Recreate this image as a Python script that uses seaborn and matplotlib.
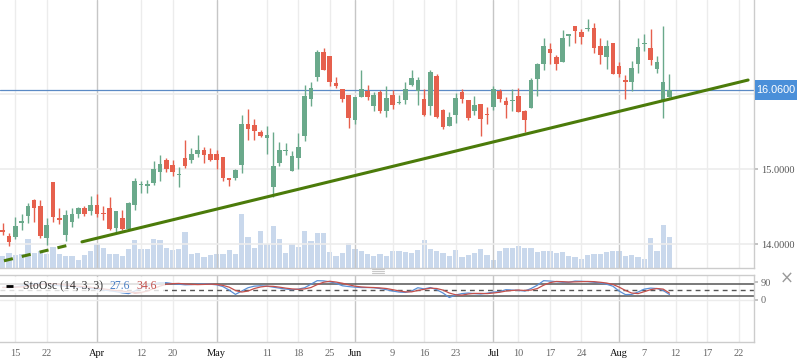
import numpy as np
import pandas as pd
import matplotlib
matplotlib.use("Agg")
import matplotlib.pyplot as plt
import matplotlib.transforms as mtransforms
from matplotlib.lines import Line2D
from matplotlib.patches import Rectangle
import seaborn as sns

# daily candles (open, high, low, close)
opens = [14.19, 14.11, 14.10, 14.29, 14.38, 14.59, 14.51, 14.08, 14.83, 14.35,
         14.12, 14.30, 14.41, 14.48, 14.45, 14.52, 14.41, 14.48, 14.22, 14.35,
         14.20, 14.53, 14.79, 14.78, 14.82, 14.96, 15.12, 15.06, 14.92, 15.15,
         15.12, 15.20, 15.26, 15.20, 15.20, 15.17, 14.88, 14.89, 15.06, 15.60,
         15.59, 15.50, 15.42, 14.76, 15.08, 15.25, 14.98, 15.15, 15.44, 15.94,
         16.23, 16.56, 16.51, 16.15, 16.07, 15.99, 15.66, 15.96, 16.05, 15.85,
         16.03, 15.78, 15.99, 15.89, 15.93, 16.13, 16.05, 15.94, 15.84, 16.24,
         15.79, 15.58, 15.72, 16.03, 15.92, 15.78, 15.87, 15.74, 15.83, 16.04,
         15.91, 15.91, 15.98, 15.78, 15.82, 16.21, 16.40, 16.60, 16.50, 16.43,
         16.78, 16.91, 16.83, 16.87, 16.88, 16.64, 16.50, 16.69, 16.38, 16.19,
         16.16, 16.40, 16.67, 16.62, 16.34, 15.93, 15.97]
highs = [14.28, 14.15, 14.37, 14.40, 14.55, 14.61, 14.59, 14.35, 14.83, 14.49,
         14.46, 14.48, 14.50, 14.51, 14.64, 14.67, 14.51, 14.63, 14.45, 14.46,
         14.57, 14.88, 14.84, 14.86, 15.11, 15.19, 15.15, 15.12, 15.03, 15.39,
         15.28, 15.46, 15.30, 15.28, 15.26, 15.17, 14.88, 15.01, 15.72, 15.80,
         15.67, 15.52, 15.58, 15.50, 15.37, 15.35, 15.24, 15.48, 16.12, 16.16,
         16.59, 16.62, 16.51, 16.23, 16.07, 15.99, 15.97, 16.32, 16.12, 16.03,
         16.06, 16.11, 16.06, 15.99, 16.17, 16.33, 16.23, 16.07, 16.32, 16.27,
         15.80, 15.76, 16.02, 16.07, 15.92, 15.98, 15.87, 15.83, 16.11, 16.07,
         15.97, 16.07, 16.09, 15.79, 16.22, 16.42, 16.75, 16.68, 16.52, 16.86,
         16.81, 16.91, 16.87, 17.00, 16.95, 16.75, 16.73, 16.69, 16.43, 16.26,
         16.44, 16.75, 16.81, 16.87, 16.51, 16.91, 16.27]
lows = [14.12, 13.98, 14.07, 14.19, 14.29, 14.30, 14.09, 13.99, 14.30, 14.27,
        14.05, 14.23, 14.35, 14.38, 14.39, 14.37, 14.32, 14.19, 14.16, 14.19,
        14.19, 14.46, 14.69, 14.69, 14.79, 14.84, 14.97, 14.91, 14.77, 15.02,
        15.08, 15.17, 15.09, 15.11, 15.00, 14.84, 14.78, 14.86, 14.95, 15.39,
        15.39, 15.43, 15.21, 14.63, 15.05, 15.19, 14.98, 15.01, 15.38, 15.84,
        16.18, 16.32, 16.11, 16.09, 15.90, 15.55, 15.61, 15.96, 15.93, 15.78,
        15.75, 15.70, 15.81, 15.87, 15.87, 16.11, 15.86, 15.71, 15.72, 15.69,
        15.54, 15.58, 15.62, 15.88, 15.66, 15.72, 15.44, 15.61, 15.79, 15.90,
        15.68, 15.78, 15.77, 15.50, 15.82, 15.98, 16.32, 16.41, 16.32, 16.43,
        16.65, 16.69, 16.67, 16.84, 16.55, 16.41, 16.34, 16.27, 16.23, 15.94,
        16.05, 16.29, 16.58, 16.39, 16.28, 15.68, 15.97]
closes = [14.17, 14.03, 14.24, 14.31, 14.51, 14.49, 14.11, 14.26, 14.37, 14.32,
          14.39, 14.41, 14.48, 14.41, 14.52, 14.41, 14.40, 14.21, 14.44, 14.21,
          14.55, 14.84, 14.81, 14.80, 15.00, 15.07, 15.00, 14.96, 14.94, 15.05,
          15.20, 15.26, 15.19, 15.12, 15.12, 14.89, 14.86, 14.99, 15.61, 15.54,
          15.51, 15.44, 15.46, 15.04, 15.26, 15.26, 15.18, 15.30, 15.98, 16.08,
          16.57, 16.32, 16.16, 16.11, 15.94, 15.68, 15.97, 16.07, 15.96, 15.99,
          15.78, 15.95, 15.86, 15.90, 16.07, 16.22, 16.19, 15.73, 16.30, 15.70,
          15.56, 15.70, 15.95, 15.94, 15.68, 15.86, 15.67, 15.73, 16.07, 15.94,
          15.86, 15.92, 15.77, 15.66, 16.19, 16.40, 16.64, 16.55, 16.41, 16.75,
          16.80, 16.84, 16.77, 16.88, 16.62, 16.52, 16.64, 16.27, 16.27, 16.17,
          16.35, 16.63, 16.69, 16.46, 16.43, 16.16, 16.06]
volume = [35, 46, 38, 43, 86, 46, 50, 41, 63, 41, 35, 35, 23, 38, 50, 71, 59, 43,
          41, 35, 56, 83, 56, 56, 86, 83, 59, 53, 56, 107, 41, 44, 32, 38, 41, 43,
          53, 41, 161, 92, 59, 110, 71, 125, 86, 44, 71, 62, 110, 80, 104, 104, 47,
          35, 44, 74, 56, 50, 41, 35, 41, 35, 50, 50, 47, 44, 53, 83, 56, 50, 44,
          35, 53, 32, 38, 44, 56, 38, 23, 50, 59, 59, 65, 59, 59, 47, 50, 50, 44,
          47, 35, 32, 26, 38, 41, 41, 47, 50, 50, 35, 38, 32, 26, 89, 50, 128, 92]

# stochastic oscillator (14, 3, 3)
sto_k = [65, 62, 66, 72, 78, 83, 85, 80, 75, 72, 70, 68, 65, 62, 58, 54, 50, 47,
         42, 36, 32, 45, 60, 72, 82, 88, 88, 83, 80, 77, 78, 80, 81, 80, 77, 68,
         50, 28, 45, 62, 70, 72, 70, 65, 60, 55, 52, 55, 62, 80, 98, 97, 92, 85,
         72, 68, 65, 63, 63, 62, 58, 52, 45, 40, 38, 45, 62, 56, 63, 52, 35, 12,
         25, 32, 35, 32, 30, 34, 40, 42, 52, 50, 48, 45, 58, 75, 98, 96, 93, 90,
         90, 96, 95, 93, 90, 86, 80, 70, 45, 27, 28, 40, 55, 60, 58, 48, 27.6]
sto_d = [63, 64, 65, 66, 69, 74, 79, 82, 82, 80, 76, 72, 70, 67, 64, 60, 56, 52,
         48, 45, 40, 37, 38, 45, 58, 70, 80, 83, 84, 81, 79, 78, 79, 80, 79, 74,
         65, 48, 40, 45, 58, 66, 70, 69, 65, 60, 56, 54, 56, 63, 78, 90, 95, 91,
         85, 77, 70, 66, 64, 63, 61, 58, 52, 46, 41, 41, 48, 54, 60, 58, 50, 35,
         26, 24, 30, 33, 33, 32, 35, 39, 45, 48, 50, 48, 50, 58, 75, 88, 94, 93,
         91, 92, 93, 94, 93, 90, 86, 79, 65, 48, 35, 32, 42, 52, 58, 55, 34.6]

tick_labels = ["15", "22", "Apr", "12", "20", "May", "11", "18", "25", "Jun", "9",
               "16", "23", "Jul", "10", "17", "24", "Aug", "7", "12", "17", "22"]
tick_bars = [2, 7, 15, 22, 27, 34, 42, 47, 52, 56, 62, 67, 72, 78, 82, 87, 92,
             98, 102, 107, 112, 117]
months = ["Apr", "May", "Jun", "Jul", "Aug"]

last_price = 16.06
trend_x = [0.2, 118.5]
trend_y = [13.78, 16.19]

GREEN = "#6aa98b"
RED = "#e6604d"

sns.set_theme(style="white")
plt.rcParams["font.family"] = ["Liberation Serif", "DejaVu Serif"]

n = len(closes)
idx = np.arange(n)
df = pd.DataFrame({"i": idx, "open": opens, "high": highs, "low": lows,
                   "close": closes, "volume": volume, "k": sto_k, "d": sto_d})

fig = plt.figure(figsize=(7.98, 3.63), dpi=100)
W, H = 798, 363
ax = fig.add_axes([0, (H - 268) / H, 754 / W, 268 / H])
axs = fig.add_axes([0, (H - 342) / H, 754 / W, 67 / H])

xlim = (-0.43, 119.44)
ylim = (13.684, 17.257)
px_per_unit = 268 / (ylim[1] - ylim[0])

# volume on a hidden twin axis behind the candles
axv = ax.twinx()
sns.barplot(data=df, x="i", y="volume", native_scale=True, ax=axv,
            color="#c9d8ec", saturation=1, width=0.84, errorbar=None,
            linewidth=0)
axv.set_ylim(0, 803)
axv.set_xlim(*xlim)
axv.axis("off")
ax.set_zorder(axv.get_zorder() + 1)
ax.patch.set_visible(False)

# grid
for a in (ax, axs):
    for pos, lab in zip(tick_bars, tick_labels):
        col = "#c6c6c6" if lab in months else "#ececec"
        a.axvline(pos, color=col, lw=1, zorder=0.5)
for v in (14, 15, 16):
    ax.axhline(v, color="#ececec", lw=1.2, zorder=0.5)

# candles
up = df["close"] >= df["open"]
colors = np.where(up, GREEN, RED)
ax.vlines(df["i"], df["low"], df["high"], colors=colors, lw=1.0, zorder=3)
body_lo = np.minimum(df["open"], df["close"])
body_h = np.maximum((df["close"] - df["open"]).abs(), 0.012)
ax.bar(df["i"], body_h, bottom=body_lo, width=0.74, color=colors,
       linewidth=0, zorder=4)

# last price line and tag box on the right axis
ax.axhline(last_price, color="#5b8ac5", lw=0.9, zorder=2)
trans = mtransforms.blended_transform_factory(ax.transAxes, ax.transData)
half = 10 / px_per_unit
ax.add_patch(Rectangle((755 / 754, last_price - half), 42 / 754, 2 * half,
                       transform=trans, fc="#4a8fd9", ec="none",
                       clip_on=False, zorder=9))
ax.text(776 / 754, last_price, f"{last_price:.4f}", transform=trans,
        ha="center", va="center", color="white", fontsize=7.8,
        family="Liberation Sans", clip_on=False, zorder=10)

# trend line: dashed extension then solid
tx_dash = np.array([trend_x[0], 11.2])
tx_solid = np.array([12.6, trend_x[1]])
ax.plot(tx_dash, np.interp(tx_dash, trend_x, trend_y), color="#4b7b0a",
        lw=2.2, ls=(0, (3, 3)), zorder=5, solid_capstyle="butt")
ax.plot(tx_solid, np.interp(tx_solid, trend_x, trend_y), color="#4b7b0a",
        lw=2.2, zorder=5, solid_capstyle="round")

ax.set_xlim(*xlim)
ax.set_ylim(*ylim)
ax.yaxis.tick_right()
# 16.0000 sits under the last-price tag, so only 14 and 15 carry labels
ax.set_yticks([14, 15])
ax.set_yticklabels([f"{v:.4f}" for v in (14, 15)])
ax.tick_params(axis="y", length=3, color="#bbbbbb", labelsize=7.5,
               labelcolor="#555555", pad=2)
ax.tick_params(axis="x", length=0, labelbottom=False)
for s in ("left", "top"):
    ax.spines[s].set_visible(False)
for s in ("right", "bottom"):
    ax.spines[s].set_color("#cccccc")
    ax.spines[s].set_linewidth(1)
ax.set_xlabel("")
ax.set_ylabel("")

# stochastic panel
sns.lineplot(data=df, x="i", y="k", ax=axs, color="#5a8fd6", lw=0.9, zorder=3)
sns.lineplot(data=df, x="i", y="d", ax=axs, color="#c4504c", lw=0.9, zorder=3)
axs.axhline(80, color="#555555", lw=1.1, zorder=2)
axs.axhline(20, color="#555555", lw=1.1, zorder=2)
axs.axhline(50, color="#555555", lw=1.0, ls=(0, (3.5, 3)), zorder=2)
axs.axhline(0, color="#ececec", lw=1.0, zorder=0.5)
axs.set_xlim(*xlim)
axs.set_ylim(-215, 127)
axs.yaxis.tick_right()
axs.set_yticks([0, 90])
axs.set_yticklabels(["0", "90"])
axs.tick_params(axis="y", length=3, color="#bbbbbb", labelsize=7.5,
                labelcolor="#666666", pad=2)
axs.set_xticks(tick_bars)
axs.set_xticklabels(tick_labels)
axs.tick_params(axis="x", length=0, labelsize=7.5, pad=5)
for lab in axs.get_xticklabels():
    lab.set_color("#111111" if lab.get_text() in months else "#666666")
axs.spines["left"].set_visible(False)
for s in ("right", "bottom", "top"):
    axs.spines[s].set_color("#cccccc")
    axs.spines[s].set_linewidth(1)
axs.set_xlabel("")
axs.set_ylabel("")

# indicator legend with translucent backing
axs.add_patch(Rectangle((0, 0.73), 165 / 754, 0.24, transform=axs.transAxes,
                        fc="white", ec="none", alpha=0.8, zorder=6))
ly = (342 - 286) / 67
axs.plot([6 / 754, 13 / 754], [ly, ly], transform=axs.transAxes, color="black",
         lw=2, zorder=7, solid_capstyle="butt")
axs.text(23 / 754, ly, "StoOsc (14, 3, 3)", transform=axs.transAxes,
         va="center", ha="left", fontsize=8.5, color="#333333", zorder=7)
axs.text(110 / 754, ly, f"{sto_k[-1]:.1f}", transform=axs.transAxes,
         va="center", ha="left", fontsize=8.5, color="#4a7fc4", zorder=7)
axs.text(136 / 754, ly, f"{sto_d[-1]:.1f}", transform=axs.transAxes,
         va="center", ha="left", fontsize=8.5, color="#c4504c", zorder=7)

# panel resize handle and close mark
for yy in (268.5, 270.5, 272.5):
    fig.add_artist(Line2D([372 / W, 384 / W], [(H - yy) / H] * 2,
                          color="#c8c8c8", lw=0.8))
fig.text(787 / W, (H - 279) / H, "\u00d7", ha="center", va="center",
         fontsize=12, color="#9a9a9a", family="DejaVu Sans")

fig.savefig("out.png", dpi=100, facecolor="white")
